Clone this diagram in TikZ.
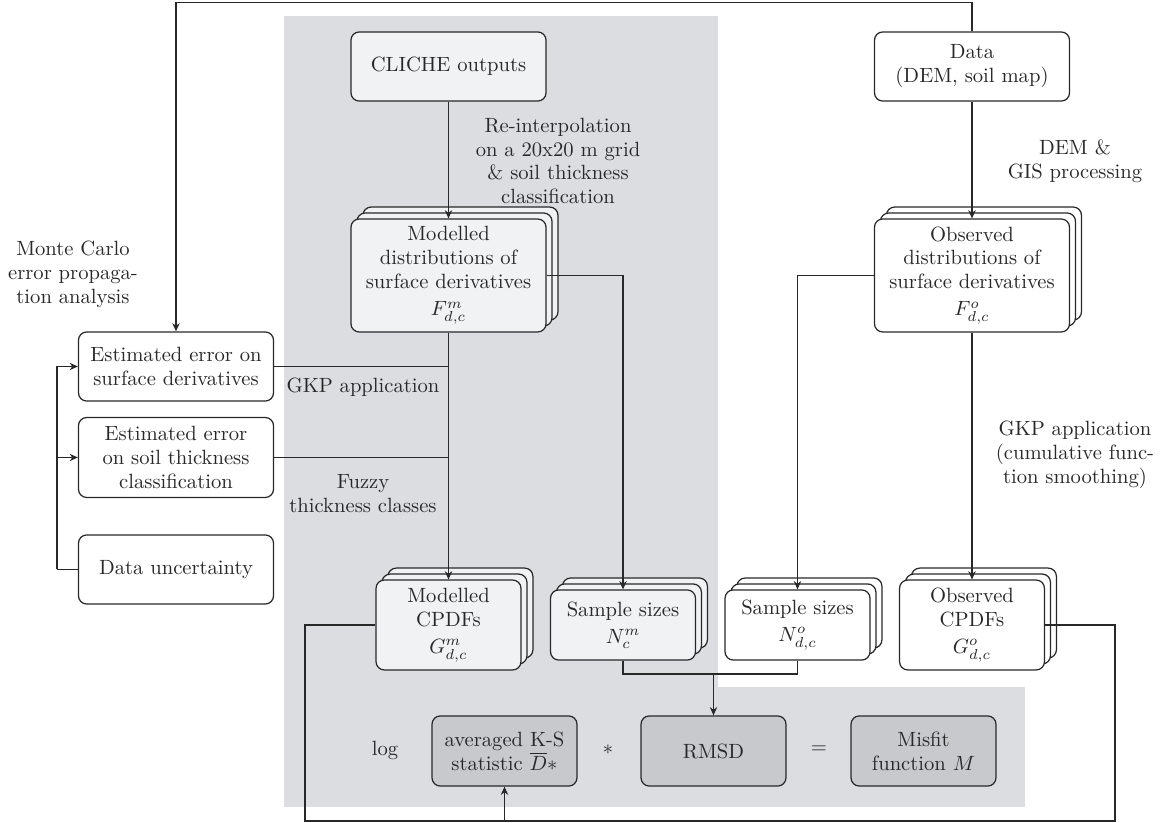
\documentclass[tikz,border=0pt]{standalone}
\usetikzlibrary{arrows.meta,shadows}
\definecolor{boxlight}{RGB}{241,242,244}
\definecolor{boxdark}{RGB}{200,201,204}
\definecolor{bggray}{RGB}{220,221,224}
\definecolor{ink}{RGB}{40,40,40}
\newcommand{\lfont}{\fontsize{10}{11.6}\selectfont}
\tikzset{
  bx/.style={draw=ink, rounded corners=4pt, align=center, inner sep=1pt, line width=0.6pt, font=\lfont, text=ink},
  lt/.style={fill=boxlight},
  dk/.style={fill=boxdark},
  wt/.style={fill=white},
  wd/.style={minimum width=94.6pt},
  nw/.style={minimum width=70.3pt},
  stacklt/.style={copy shadow={shadow xshift=5.8pt, shadow yshift=5.8pt, fill=boxlight, draw=ink, line width=0.6pt},
                  copy shadow={shadow xshift=2.9pt, shadow yshift=2.9pt, fill=boxlight, draw=ink, line width=0.6pt}},
  stackwt/.style={copy shadow={shadow xshift=5.8pt, shadow yshift=5.8pt, fill=white, draw=ink, line width=0.6pt},
                  copy shadow={shadow xshift=2.9pt, shadow yshift=2.9pt, fill=white, draw=ink, line width=0.6pt}},
  lbl/.style={align=center, font=\lfont, text=ink, inner sep=0pt},
  conn/.style={line width=0.5pt, draw=ink},
  arr/.style={conn, -{Stealth[length=4pt,width=3.6pt,inset=1.3pt]}},
}
\begin{document}
\begin{tikzpicture}[x=0.485pt, y=-0.485pt]
\useasboundingbox (0,0) rectangle (1162,823);
% backgrounds
\fill[bggray] (284,16) rectangle (718,807);
\fill[bggray] (284,687) rectangle (1025,807);

% nodes
\node[bx, lt, wd, minimum height=33.5pt] (cliche) at (448.5,66.5) {CLICHE outputs};
\node[bx, wt, wd, minimum height=33.5pt] (data) at (972,66.5) {Data\\(DEM, soil map)};
\node[bx, lt, wd, stacklt, minimum height=54.8pt] (moddist) at (448.5,275.5) {Modelled\\distributions of\\surface derivatives\\[1.5pt]$F^m_{d,c}$};
\node[bx, wt, wd, stackwt, minimum height=54.8pt] (obsdist) at (972,275.5) {Observed\\distributions of\\surface derivatives\\[1.5pt]$F^o_{d,c}$};
\node[bx, wt, wd, minimum height=33.5pt] (err1) at (176,366.5) {Estimated error on\\surface derivatives};
\node[bx, wt, wd, minimum height=38.8pt] (err2) at (176,457.5) {Estimated error\\on soil thickness\\classification};
\node[bx, wt, wd, minimum height=33.5pt] (unc) at (176,569.5) {Data uncertainty};
\node[bx, lt, nw, stacklt, minimum height=43.6pt] (modcpdf) at (448.5,625) {Modelled\\CPDFs\\[1.5pt]$G^m_{d,c}$};
\node[bx, lt, nw, stacklt, minimum height=34pt] (nm) at (623,625) {Sample sizes\\[1.5pt]$N^m_c$};
\node[bx, wt, nw, stackwt, minimum height=34pt] (no) at (797.5,625) {Sample sizes\\[1.5pt]$N^o_{d,c}$};
\node[bx, wt, nw, stackwt, minimum height=43.6pt] (obscpdf) at (972,625) {Observed\\CPDFs\\[1.5pt]$G^o_{d,c}$};
\node[bx, dk, nw, minimum height=34pt] (ks) at (504.5,751) {averaged K-S\\statistic $\overline{D}*$};
\node[bx, dk, nw, minimum height=34pt] (rmsd) at (713.5,751) {RMSD};
\node[bx, dk, nw, minimum height=34pt] (misfit) at (923.5,751) {Misfit\\function $M$};

% labels
\node[lbl] (mc) at (73,274) {Monte Carlo\\error propaga-\\tion analysis};
\node[lbl] (reint) at (558,161) {Re-interpolation\\on a 20x20 m grid\\\& soil thickness\\classification};
\node[lbl] (gis) at (1075,161) {DEM \&\\GIS processing};
\node[lbl] (gkp1) at (363,387) {GKP application};
\node[lbl] (fuzzy) at (363,494) {Fuzzy\\thickness classes};
\node[lbl] (gkp2) at (1075,455) {GKP application\\(cumulative func-\\tion smoothing)};
\node[lbl] (log) at (385,750) {log};
\node[lbl] (times) at (608,750) {$*$};
\node[lbl] (eq) at (819,750) {$=$};

% helper coordinates
\coordinate (bk) at (57,0);
\coordinate (mg) at (0,674);
\coordinate (bl) at (305,821);
\coordinate (br) at (1115,821);

% connectors
\draw[arr] (data.north) -- ++(0,-28.5) -| (err1.north);
\draw[arr] (cliche.south) -- (moddist.north);
\draw[arr] (data.south) -- (obsdist.north);
\draw[arr] (moddist.east) -| (nm.north);
\draw[arr] (obsdist.west) -| (no.north);
\draw[arr] (moddist.south) -- (modcpdf.north);
\draw[arr] (obsdist.south) -- (obscpdf.north);
\draw[conn] (err1.east) -- (err1.east -| moddist.south);
\draw[conn] (err2.east) -- (err2.east -| moddist.south);
\draw[conn] (unc.west) -- (unc.west -| bk);
\draw[arr] (unc.west -| bk) |- (err1.west);
\draw[arr] (err2.west -| bk) -- (err2.west);
\draw[conn] (nm.south) |- (no.south |- mg) -- (no.south);
\draw[arr] (rmsd.north |- mg) -- (rmsd.north);
\draw[conn] (modcpdf.west) -| (bl) -- (br) |- (obscpdf.east);
\draw[arr] (ks.south |- bl) -- (ks.south);
\end{tikzpicture}
\end{document}
